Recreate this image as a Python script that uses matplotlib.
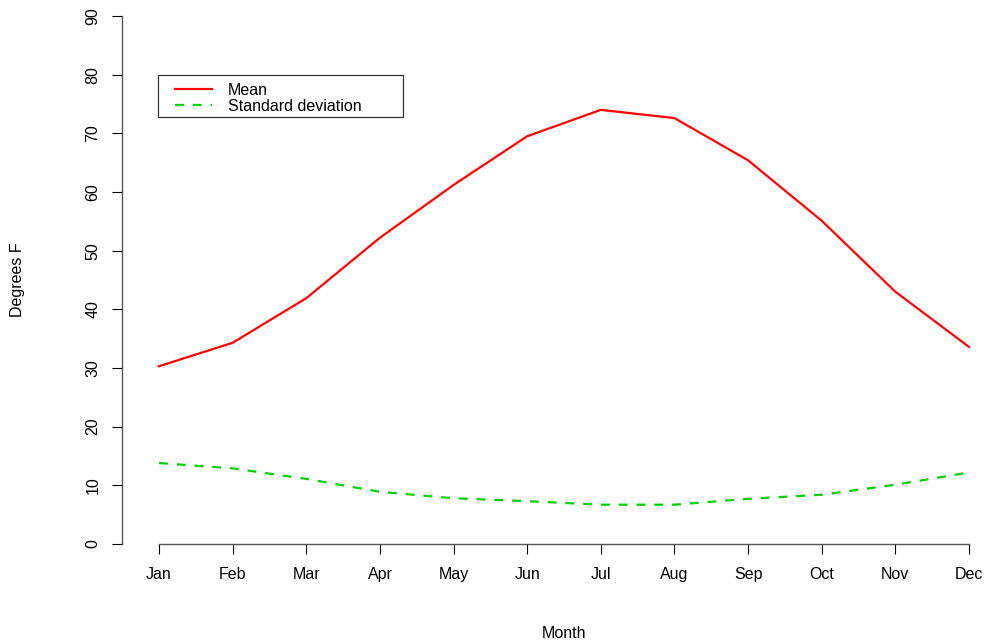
import numpy as np
import matplotlib.pyplot as plt
from matplotlib.patches import Rectangle

plt.rcParams['font.family'] = ['Liberation Sans', 'DejaVu Sans']

months = ["Jan", "Feb", "Mar", "Apr", "May", "Jun",
          "Jul", "Aug", "Sep", "Oct", "Nov", "Dec"]
mean_temp = [30.3, 34.3, 41.9, 52.2, 61.2, 69.5, 74.0, 72.6, 65.4, 55.1, 43.0, 33.6]
sd_temp = [13.8, 12.9, 11.1, 8.9, 7.8, 7.3, 6.7, 6.7, 7.7, 8.4, 10.1, 12.2]
yticks = np.arange(0, 91, 10)

W, H = 985, 641
fig = plt.figure(figsize=(W / 100, H / 100), dpi=100)

# plot region in pixels: left spine at x=122, y=0 at 544, y=90 at 16
left, right = 122, 985
bottom, top = 544, 16
ax = fig.add_axes([left / W, (H - bottom) / H, (right - left) / W, (bottom - top) / H])

step = (969 - 159) / 11
x = np.arange(1, 13)
ax.set_xlim(1 - (159 - left) / step, 12 + (right - 969) / step)
ax.set_ylim(0, 90)

ax.plot(x, mean_temp, color='#FF0000', lw=1.6, label="Mean")
ax.plot(x, sd_temp, color='#00CD00', lw=1.6, dashes=(4, 4), label="Standard deviation")

for s in ['top', 'right']:
    ax.spines[s].set_visible(False)
ax.spines['left'].set_bounds(0, 90)
ax.spines['bottom'].set_bounds(1, 12)
for s in ['left', 'bottom']:
    ax.spines[s].set_color('#555555')
    ax.spines[s].set_linewidth(1.0)

fs = 11.5
ax.set_xticks(x)
ax.set_xticklabels(months)
ax.set_yticks(yticks)
ax.set_yticklabels([str(v) for v in yticks], rotation=90, va='center')
ax.tick_params(axis='both', direction='out', length=7.5, width=0.8, labelsize=fs,
               colors='black')
ax.tick_params(axis='x', pad=9)
ax.tick_params(axis='y', pad=8)

fig.text(564 / W, 1 - 633 / H, "Month", ha='center', va='center', fontsize=fs)
fig.text(18 / W, 1 - 280 / H, "Degrees F", ha='center', va='center', rotation=90, fontsize=fs)

# legend box like R's legend()
ax.add_patch(Rectangle((158 / W, 1 - 117 / H), (403 - 158) / W, (117 - 75) / H,
                       transform=fig.transFigure, fill=True, facecolor='white',
                       edgecolor='#333333', lw=0.9, zorder=4, clip_on=False))
leg = ax.legend(loc='upper left', bbox_to_anchor=(175 / W, 1 - 83 / H),
                bbox_transform=fig.transFigure, fontsize=fs, frameon=False,
                handlelength=2.3, handletextpad=1.0, labelspacing=0.05,
                borderpad=0, borderaxespad=0)
leg.set_zorder(5)

fig.savefig("out.png", dpi=100)
